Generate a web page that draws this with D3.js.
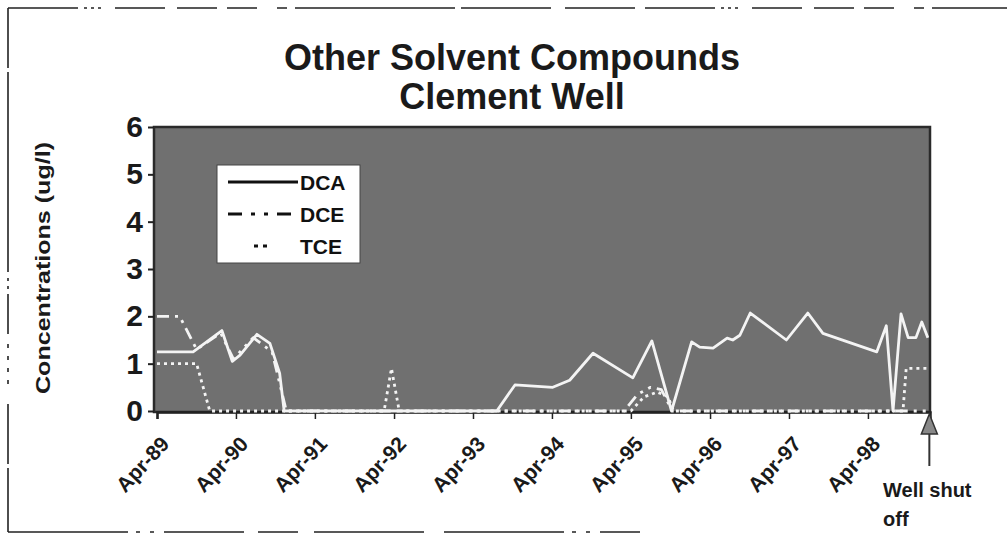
<!DOCTYPE html>
<html><head><meta charset="utf-8">
<script src="https://cdn.jsdelivr.net/npm/d3@7/dist/d3.min.js"></script>
<style>
body{margin:0;background:#fff;}
svg{display:block;font-family:"Liberation Sans",Arial,sans-serif;}
</style></head>
<body><svg id="chart" width="1007" height="541"></svg>
<script>
// ---- data ----
const titleLines = ["Other Solvent Compounds", "Clement Well"];
const yLabel = "Concentrations (ug/l)";
const yTicks = [0, 1, 2, 3, 4, 5, 6];
const xTickDates = ["1989-04-01","1990-04-01","1991-04-01","1992-04-01","1993-04-01","1994-04-01","1995-04-01","1996-04-01","1997-04-01","1998-04-01"];
const xTickLabels = ["Apr-89","Apr-90","Apr-91","Apr-92","Apr-93","Apr-94","Apr-95","Apr-96","Apr-97","Apr-98"];
const seriesNames = ["DCA", "DCE", "TCE"];

const dcaDates = ["1989-04-01","1989-09-15","1990-01-26","1990-03-15","1990-04-20","1990-07-07","1990-09-05","1990-10-20","1990-11-10","1993-07-20","1993-10-12","1994-04-05","1994-06-22","1994-10-08","1995-04-10","1995-07-07","1995-10-06","1996-01-07","1996-02-13","1996-04-15","1996-06-19","1996-07-15","1996-08-17","1996-10-04","1997-03-20","1997-06-27","1997-09-05","1998-05-12","1998-06-25","1998-07-26","1998-09-01","1998-10-04","1998-11-09","1998-12-06","1999-01-03"];
const dcaValues = [1.25,1.25,1.7,1.05,1.18,1.62,1.43,0.8,0,0,0.55,0.5,0.65,1.22,0.7,1.48,0,1.46,1.35,1.33,1.54,1.5,1.6,2.07,1.5,2.07,1.64,1.25,1.8,0,2.05,1.55,1.55,1.88,1.55];

const dceDates = ["1989-04-01","1989-07-15","1989-10-01","1990-01-20","1990-03-20","1990-06-20","1990-09-15","1990-11-20","1995-03-01","1995-05-01","1995-07-01","1995-08-20","1995-10-10","1999-01-03"];
const dceValues = [2.0,2.0,1.3,1.65,1.1,1.55,1.25,0,0,0.35,0.5,0.45,0,0];

const tceDates = ["1989-04-01","1989-10-01","1989-12-01","1992-02-15","1992-03-20","1992-04-25","1995-04-01","1995-06-01","1995-08-01","1995-09-20","1995-10-15","1998-09-10","1998-09-25","1999-01-03"];
const tceValues = [1.0,1.0,0,0,0.9,0,0,0.3,0.4,0.3,0,0,0.9,0.9];

// ---- setup ----
const parse = d3.timeParse("%Y-%m-%d");
const svg = d3.select("#chart");
const plot = {left: 154, right: 930, top: 127, bottom: 412};

const x = d3.scaleTime()
  .domain([parse("1989-04-01"), parse("1999-01-13")])
  .range([157, plot.right]);
const y = d3.scaleLinear().domain([0, 6]).range([plot.bottom - 1, plot.top]);

// outer dashed frame
const frame = svg.append("g").attr("stroke", "#222").attr("fill", "none").attr("stroke-width", 1.6);
frame.append("line").attr("x1", 8).attr("y1", 8).attr("x2", 1007).attr("y2", 8)
  .attr("stroke-dasharray", "70,6,3,4,3,4,3,14,50,12,40,10,30,20,10,8,160,6,90,14,70,10");
frame.append("line").attr("x1", 8).attr("y1", 8).attr("x2", 8).attr("y2", 532)
  .attr("stroke-dasharray", "60,4,200,6,3,5,3,5,40,10,4,8,4,8,4,8,4,20");
frame.append("line").attr("x1", 8).attr("y1", 532).attr("x2", 640).attr("y2", 532)
  .attr("stroke-dasharray", "120,8,4,10,4,10,80,14,40,16,110,20");

// title
svg.append("g").selectAll("text").data(titleLines).join("text")
  .attr("x", 512).attr("y", (d, i) => 70 + i * 39)
  .attr("text-anchor", "middle")
  .attr("font-size", 36).attr("font-weight", "bold").attr("fill", "#1a1a1a")
  .text(d => d);

// plot background
svg.append("rect")
  .attr("x", plot.left).attr("y", plot.top)
  .attr("width", plot.right - plot.left).attr("height", plot.bottom - plot.top)
  .attr("fill", "#707070").attr("stroke", "#2a2a2a").attr("stroke-width", 2.5);

// y axis
const yAxis = svg.append("g").attr("transform", `translate(${plot.left},0)`)
  .call(d3.axisLeft(y).tickValues(yTicks).tickSize(6).tickPadding(5).tickFormat(d3.format("d")));
yAxis.select(".domain").remove();
yAxis.selectAll("line").attr("stroke", "#222").attr("stroke-width", 2);
yAxis.selectAll("text").attr("font-size", 30).attr("font-weight", "bold").attr("fill", "#1a1a1a")
  .attr("font-family", "Liberation Sans, Arial, sans-serif");

// y label
svg.append("text")
  .attr("transform", "translate(50,268) rotate(-90)")
  .attr("text-anchor", "middle")
  .attr("font-size", 21).attr("font-weight", "bold").attr("fill", "#1a1a1a")
  .attr("textLength", 252).attr("lengthAdjust", "spacingAndGlyphs")
  .text(yLabel);

// x axis
const xAxis = svg.append("g").attr("transform", `translate(0,${plot.bottom})`)
  .call(d3.axisBottom(x).tickValues(xTickDates.map(parse)).tickSize(7)
    .tickFormat((d, i) => xTickLabels[i]));
xAxis.select(".domain").attr("stroke", "#222").attr("stroke-width", 2.5);
xAxis.selectAll("line").attr("stroke", "#222").attr("stroke-width", 1.5);
xAxis.selectAll("text")
  .attr("font-size", 21).attr("font-weight", "bold").attr("fill", "#1a1a1a")
  .attr("font-family", "Liberation Sans, Arial, sans-serif")
  .attr("text-anchor", "end")
  .attr("dy", null).attr("y", 0)
  .attr("transform", "translate(13,33) rotate(-47)");

// lines
const line = d3.line().x(d => x(d.date)).y(d => y(d.value));
function makeSeries(dates, values) {
  return dates.map((dt, i) => ({date: parse(dt), value: values[i]}));
}
const styles = {
  DCA: null,
  DCE: "12,6,3,6,3,6",
  TCE: "3,4"
};
const seriesData = [
  {name: "TCE", data: makeSeries(tceDates, tceValues)},
  {name: "DCE", data: makeSeries(dceDates, dceValues)},
  {name: "DCA", data: makeSeries(dcaDates, dcaValues)}
];
svg.append("g").selectAll("path").data(seriesData).join("path")
  .attr("d", d => line(d.data))
  .attr("fill", "none").attr("stroke", "#f4f4f4")
  .attr("stroke-width", 2.8).attr("stroke-linejoin", "round")
  .attr("stroke-dasharray", d => styles[d.name]);

// legend
const lg = svg.append("g");
lg.append("rect").attr("x", 217).attr("y", 165).attr("width", 143).attr("height", 98)
  .attr("fill", "#fff").attr("stroke", "#444").attr("stroke-width", 1);
const legendRows = [
  {name: seriesNames[0], dash: null, x1: 228, x2: 298},
  {name: seriesNames[1], dash: "14,9,4,9,4,9", x1: 228, x2: 298},
  {name: seriesNames[2], dash: "4,5", x1: 254, x2: 268}
];
legendRows.forEach((r, i) => {
  const yy = 182 + i * 32;
  lg.append("line").attr("x1", r.x1).attr("x2", r.x2).attr("y1", yy).attr("y2", yy)
    .attr("stroke", "#111").attr("stroke-width", 3).attr("stroke-dasharray", r.dash);
  lg.append("text").attr("x", 300).attr("y", yy + 8)
    .attr("font-size", 21).attr("font-weight", "bold").attr("fill", "#111").text(r.name);
});

// "Well shut off" arrow and label
const ax = x(parse("1999-01-10"));
svg.append("line").attr("x1", ax).attr("x2", ax).attr("y1", 430).attr("y2", 466)
  .attr("stroke", "#333").attr("stroke-width", 2);
svg.append("path").attr("d", `M${ax},414 L${ax - 8},434 L${ax + 8},434 Z`)
  .attr("fill", "#888").attr("stroke", "#333").attr("stroke-width", 1.5);
svg.append("text").attr("x", 883).attr("y", 497).attr("font-size", 20).attr("font-weight", "bold").attr("fill", "#1a1a1a").text("Well shut");
svg.append("text").attr("x", 883).attr("y", 526).attr("font-size", 20).attr("font-weight", "bold").attr("fill", "#1a1a1a").text("off");
</script>
</body></html>
